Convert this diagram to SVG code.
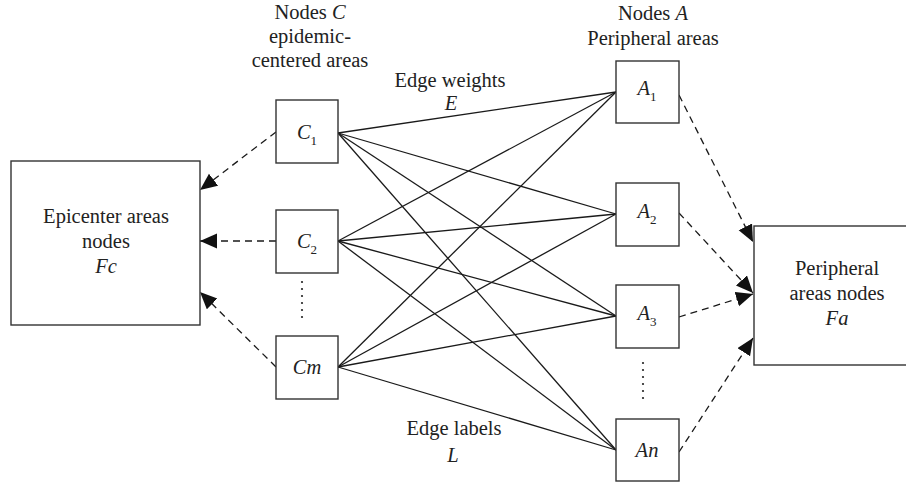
<svg xmlns="http://www.w3.org/2000/svg" width="906" height="483" viewBox="0 0 906 483">
<style>
.box{fill:#fff;stroke:#333;stroke-width:1.4}
text{font-size:20.5px;fill:#222;text-anchor:middle}
.i{font-style:italic}
.sub{font-size:13px;font-style:normal}
.e{stroke:#1a1a1a;stroke-width:1.3;fill:none}
.d{stroke:#1a1a1a;stroke-width:1.3;fill:none;stroke-dasharray:7 5;marker-end:url(#ah)}
.dot{fill:#222}
</style>
<defs>
<marker id="ah" markerUnits="userSpaceOnUse" markerWidth="18" markerHeight="16" refX="17" refY="7.5" orient="auto">
<path d="M0,0 L17,7.5 L0,15 z" fill="#111"/>
</marker>
</defs>
<g font-family="Liberation Serif, Times New Roman, DejaVu Serif, serif">
<g id="labels">
<text x="310" y="19">Nodes <tspan class="i">C</tspan></text>
<text x="310" y="43">epidemic-</text>
<text x="310" y="67">centered areas</text>
<text x="653" y="20">Nodes <tspan class="i">A</tspan></text>
<text x="653" y="45">Peripheral areas</text>
<text x="450" y="87">Edge weights</text>
<text class="i" x="451" y="110">E</text>
<text x="454" y="435">Edge labels</text>
<text class="i" x="453" y="462">L</text>
</g>
<g id="edges">
<line class="e" x1="338" y1="133" x2="616" y2="92"/>
<line class="e" x1="338" y1="133" x2="616" y2="214"/>
<line class="e" x1="338" y1="133" x2="616" y2="316"/>
<line class="e" x1="338" y1="133" x2="616" y2="450"/>
<line class="e" x1="338" y1="241" x2="616" y2="92"/>
<line class="e" x1="338" y1="241" x2="616" y2="214"/>
<line class="e" x1="338" y1="241" x2="616" y2="316"/>
<line class="e" x1="338" y1="241" x2="616" y2="450"/>
<line class="e" x1="338" y1="367" x2="616" y2="92"/>
<line class="e" x1="338" y1="367" x2="616" y2="214"/>
<line class="e" x1="338" y1="367" x2="616" y2="316"/>
<line class="e" x1="338" y1="367" x2="616" y2="450"/>
<line class="d" x1="276" y1="132" x2="200" y2="190"/>
<line class="d" x1="276" y1="241" x2="200" y2="241"/>
<line class="d" x1="276" y1="367" x2="200" y2="292"/>
<line class="d" x1="679" y1="95" x2="753" y2="242"/>
<line class="d" x1="679" y1="213" x2="753" y2="293"/>
<line class="d" x1="679" y1="317" x2="753" y2="294"/>
<line class="d" x1="679" y1="452" x2="753" y2="338"/>
</g>
<g id="Fc">
<rect class="box" x="11" y="161" width="189" height="164"/>
<text x="106" y="223">Epicenter areas</text>
<text x="106" y="248">nodes</text>
<text class="i" x="106" y="273">Fc</text>
</g>
<g id="Fa">
<rect class="box" x="754" y="226" width="160" height="139"/>
<text x="837" y="275">Peripheral</text>
<text x="837" y="300">areas nodes</text>
<text class="i" x="837" y="325">Fa</text>
</g>
<g id="C1">
<rect class="box" x="276" y="100" width="62" height="63"/>
<text class="i" x="307" y="139">C<tspan class="sub" dy="6">1</tspan></text>
</g>
<g id="C2">
<rect class="box" x="276" y="210" width="62" height="63"/>
<text class="i" x="307" y="248">C<tspan class="sub" dy="6">2</tspan></text>
</g>
<g id="Cdots">
<circle class="dot" cx="302" cy="282" r="1.1"/>
<circle class="dot" cx="302" cy="289" r="1.1"/>
<circle class="dot" cx="302" cy="296" r="1.1"/>
<circle class="dot" cx="302" cy="303" r="1.1"/>
<circle class="dot" cx="302" cy="310" r="1.1"/>
<circle class="dot" cx="302" cy="317" r="1.1"/>
</g>
<g id="Cm">
<rect class="box" x="276" y="336" width="62" height="63"/>
<text class="i" x="307" y="374">Cm</text>
</g>
<g id="A1">
<rect class="box" x="616" y="61" width="63" height="62"/>
<text class="i" x="647" y="95">A<tspan class="sub" dy="6">1</tspan></text>
</g>
<g id="A2">
<rect class="box" x="616" y="183" width="63" height="63"/>
<text class="i" x="647" y="218">A<tspan class="sub" dy="6">2</tspan></text>
</g>
<g id="A3">
<rect class="box" x="616" y="285" width="63" height="63"/>
<text class="i" x="647" y="320">A<tspan class="sub" dy="6">3</tspan></text>
</g>
<g id="Adots">
<circle class="dot" cx="643" cy="363" r="1.1"/>
<circle class="dot" cx="643" cy="370" r="1.1"/>
<circle class="dot" cx="643" cy="377" r="1.1"/>
<circle class="dot" cx="643" cy="384" r="1.1"/>
<circle class="dot" cx="643" cy="391" r="1.1"/>
<circle class="dot" cx="643" cy="398" r="1.1"/>
</g>
<g id="An">
<rect class="box" x="616" y="419" width="63" height="62"/>
<text class="i" x="647" y="457">An</text>
</g>
</g>
</svg>
